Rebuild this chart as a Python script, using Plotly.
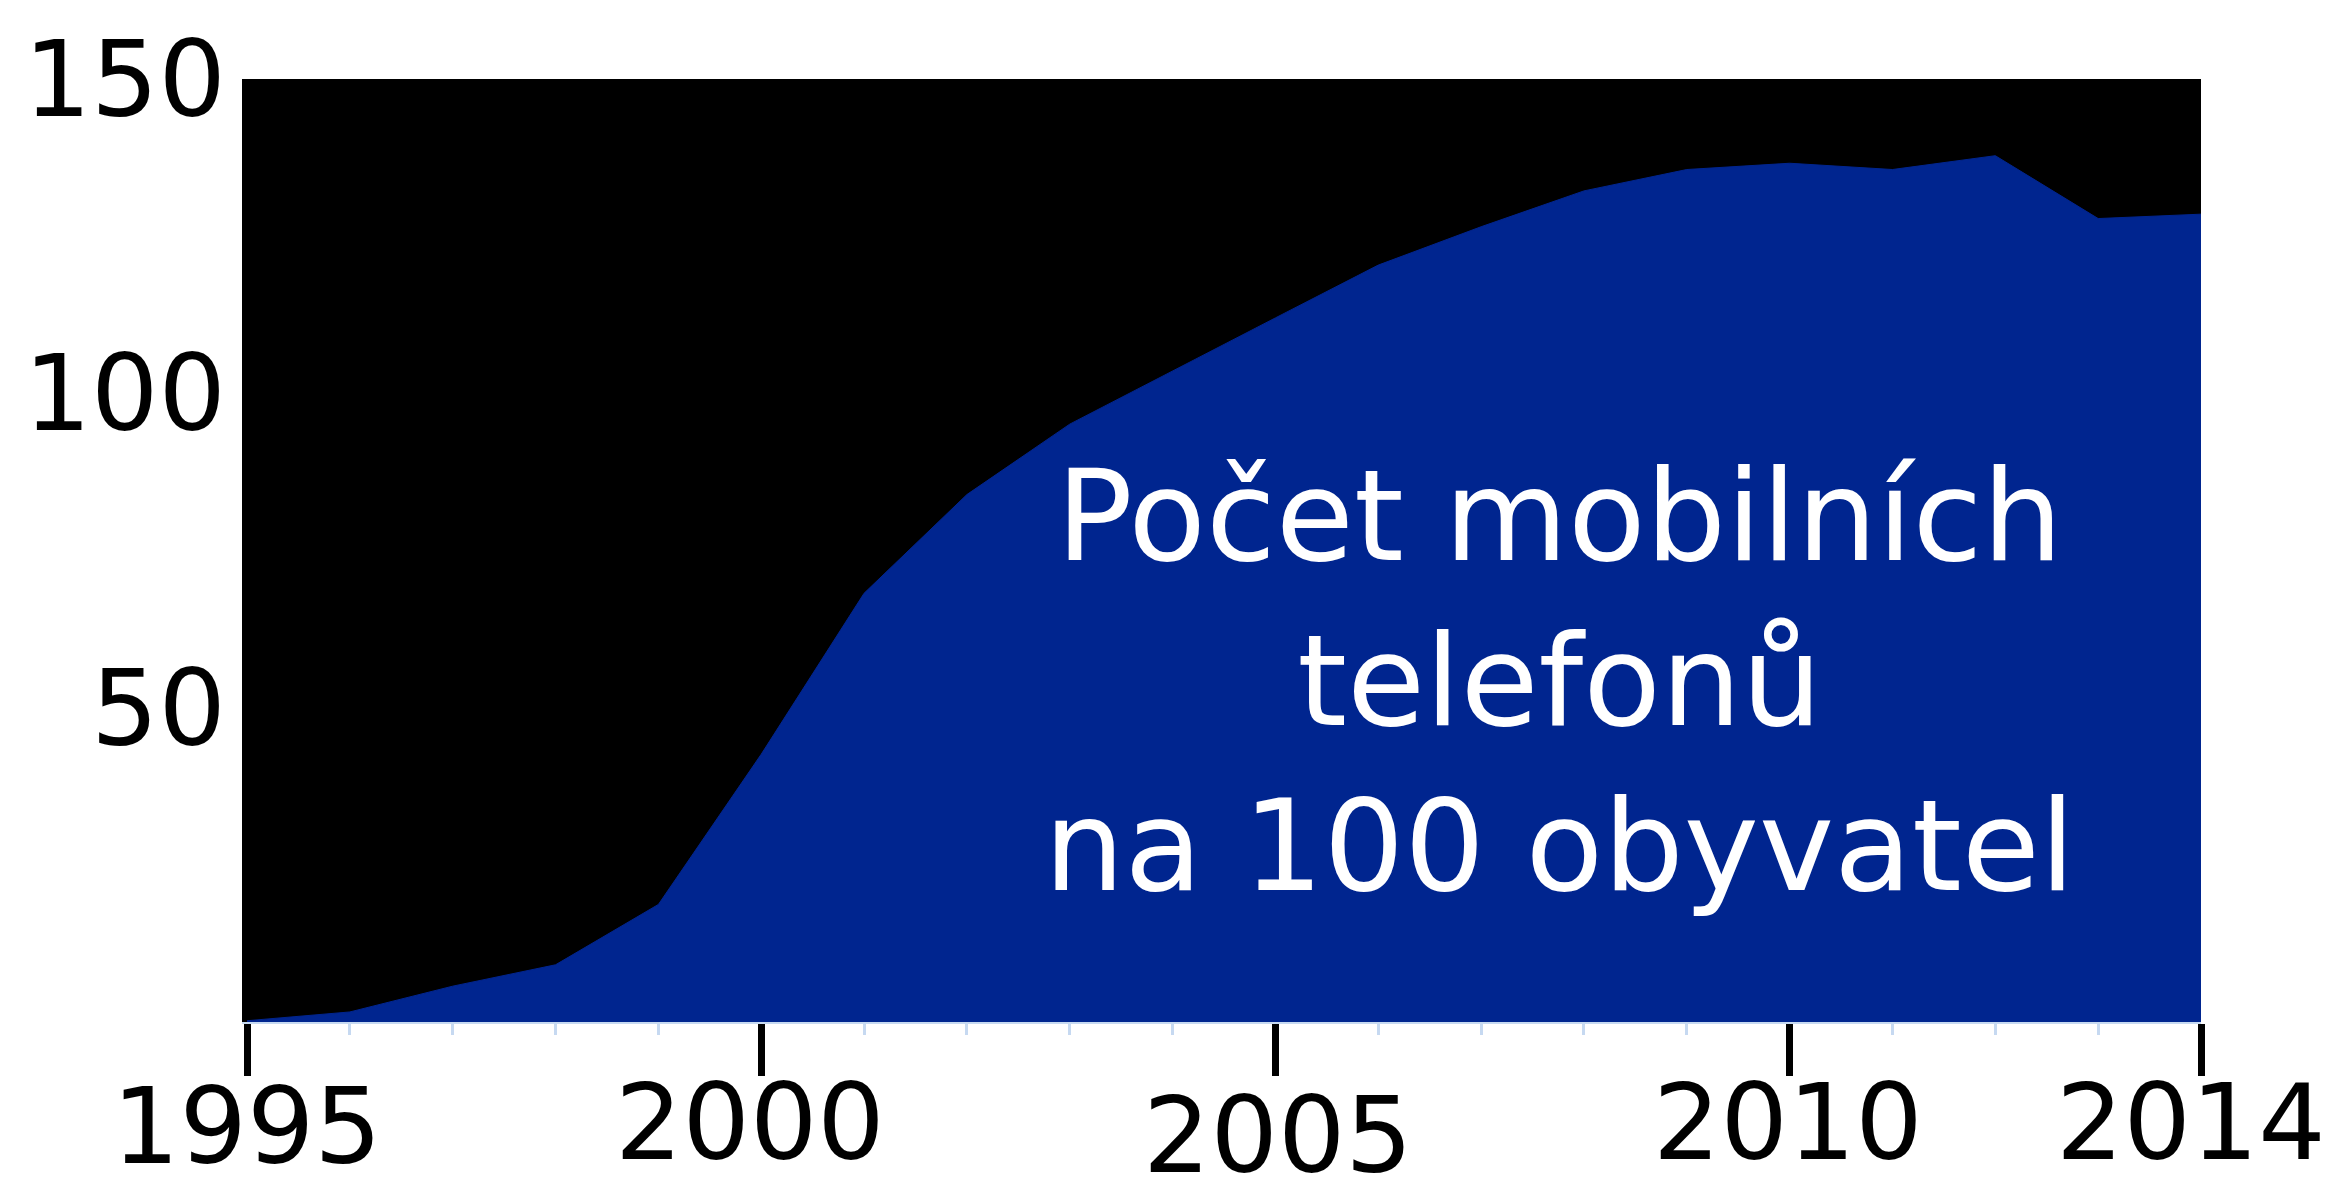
import plotly.graph_objects as go

# Data: mobile phones per 100 inhabitants (Czech Republic)
years = list(range(1995, 2015))
values = [0.2, 1.6, 5.7, 9.1, 18.7, 42.6, 68.2, 83.9, 95.1, 103.6,
          112.0, 120.4, 126.5, 132.2, 135.6, 136.6, 135.6, 137.8, 127.8, 128.5]

x_tickvals = [1995, 2000, 2005, 2010, 2014]
x_ticktext = ["1995", "2000", "2005", "2010", "2014"]
y_tickvals = [50, 100, 150]
y_ticktext = ["50", "100", "150"]
label_lines = ["Počet mobilních", "telefonů", "na 100 obyvatel"]

FONT = "DejaVu Sans"
BLUE = "#00258F"
LIGHT = "#c6d9f1"

fig = go.Figure()
fig.add_trace(go.Scatter(
    x=years, y=values, mode="lines", fill="tozeroy",
    fillcolor=BLUE, line=dict(color=BLUE, width=1),
    hoverinfo="skip", showlegend=False,
))

fig.add_annotation(
    x=2007.76, y=54.2, xref="x", yref="y",
    text="<br>".join(label_lines), showarrow=False,
    font=dict(family=FONT, size=127, color="white"),
    align="center", xanchor="center", yanchor="middle",
)

# x tick labels as annotations placed on the x scale (slight per-label offsets as in the original)
label_xshift = [0, -11, 3, -2, -10]
label_ypos = [-0.111, -0.107, -0.120, -0.107, -0.107]
for val, txt, dx, yp in zip(x_tickvals, x_ticktext, label_xshift, label_ypos):
    fig.add_annotation(
        x=val, y=yp, xref="x", yref="paper", text=txt, showarrow=False,
        xshift=dx, xanchor="center", yanchor="middle",
        font=dict(family=FONT, size=106, color="black"),
    )

fig.update_layout(
    width=2332, height=1177,
    margin=dict(l=242, r=131, t=79, b=155, autoexpand=False),
    paper_bgcolor="white", plot_bgcolor="black",
    showlegend=False,
    xaxis=dict(
        range=[1994.951, 2014], showgrid=False, zeroline=False,
        tickmode="array", tickvals=x_tickvals, showticklabels=False,
        ticks="outside", ticklen=52, tickwidth=7, tickcolor="black",
        showline=True, linecolor=LIGHT, linewidth=2,
        minor=dict(tickmode="array", tickvals=years, ticks="outside",
                   ticklen=11, tickwidth=2.5, tickcolor=LIGHT),
        automargin=False,
    ),
    yaxis=dict(
        range=[0, 150], showgrid=False, zeroline=False,
        tickmode="array", tickvals=y_tickvals, ticktext=y_ticktext,
        ticks="", tickfont=dict(family=FONT, size=106, color="black"),
        ticklabelstandoff=15, automargin=False,
    ),
)

fig.write_html("out.html", config={"displayModeBar": False},
               post_script="document.body.style.margin='0';")
